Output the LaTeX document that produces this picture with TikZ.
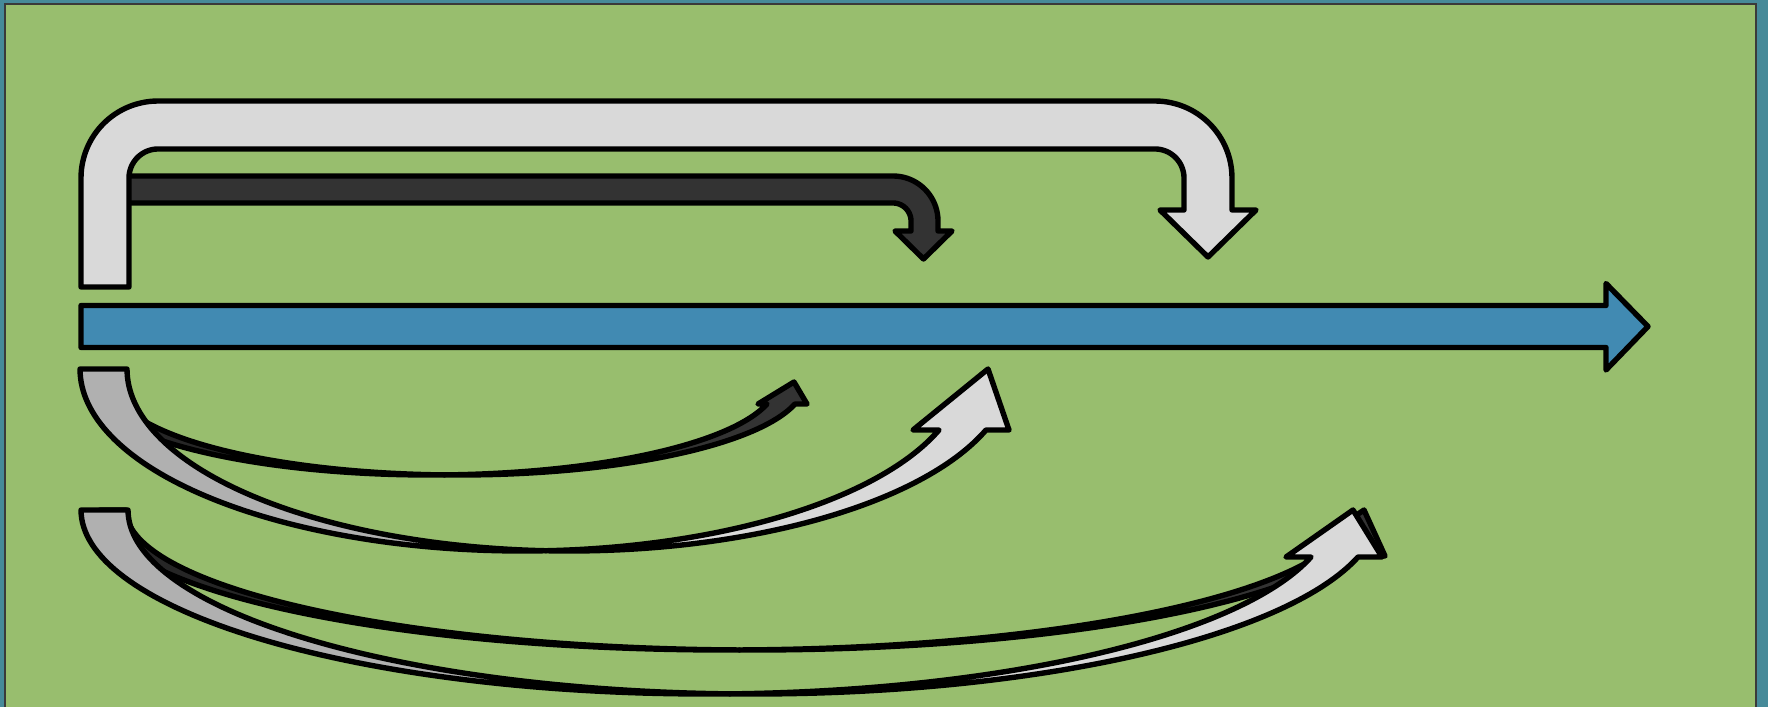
\documentclass[tikz,border=0pt]{standalone}
\definecolor{bgteal}{HTML}{468A99}
\definecolor{bggreen}{HTML}{98BE6E}
\definecolor{rimgray}{HTML}{3A3A3A}
\definecolor{bluearr}{HTML}{418AB2}
\definecolor{lightarr}{HTML}{D9D9D9}
\definecolor{lightsh}{HTML}{B0B0B0}
\definecolor{darkarr}{HTML}{333333}
\definecolor{darksh}{HTML}{262626}
\tikzset{arrline/.style={draw=black, line width=2.7pt, line join=round}}
% curved up arrow: #1 L, #2 T, #3 a, #4 b, #5 th, #6 ah, #7 left wing, #8 right wing, #9 tip x
\newcommand{\curvedarrow}[9]{%
\pgfmathsetmacro{\myca}{#1+#3}%
\pgfmathsetmacro{\mycb}{#1+#3+#5}%
\pgfmathsetmacro{\myti}{acos(#5/(2*#3))}%
\pgfmathsetmacro{\mytii}{180-\myti}%
\pgfmathsetmacro{\mytn}{asin(#6/#4)}%
\filldraw[fill=\shcol, arrline]
  plot[domain=180:\myti, samples=70, variable=\q] ({\myca+#3*cos(\q)},{#2+#4*sin(\q)})
  -- plot[domain=\mytii:180, samples=70, variable=\q] ({\mycb+#3*cos(\q)},{#2+#4*sin(\q)})
  -- cycle;
\filldraw[fill=\frcol, arrline]
  plot[domain=\mytn:\myti, samples=70, variable=\q] ({\myca+#3*cos(\q)},{#2+#4*sin(\q)})
  -- plot[domain=\mytii:\mytn, samples=70, variable=\q] ({\mycb+#3*cos(\q)},{#2+#4*sin(\q)})
  -- (#8,#2+#6) -- (#9,#2) -- (#7,#2+#6) -- cycle;
}
\begin{document}
\begin{tikzpicture}[x=0.5pt,y=-0.5pt]
\useasboundingbox (0,0) rectangle (1768,707);
\clip (0,0) rectangle (1768,707);
\fill[bgteal] (0,0) rectangle (1768,707);
\filldraw[fill=bggreen, draw=rimgray, line width=1.2pt] (5,4) rectangle (1756,740);

% blue straight arrow
\filldraw[fill=bluearr, arrline] (81,305.5) -- (1606,305.5) -- (1606,283.5) -- (1648,326.5)
  -- (1606,370) -- (1606,347.5) -- (81,347.5) -- cycle;

% dark bent arrow (behind)
\filldraw[fill=darkarr, arrline] (110,176) -- (893,176)
  -- plot[domain=270:360, samples=30, variable=\q] ({893+45*cos(\q)},{221+45*sin(\q)})
  -- (938,231) -- (952,231) -- (923.5,259) -- (895,231) -- (911,231)
  -- plot[domain=360:270, samples=30, variable=\q] ({893+18*cos(\q)},{221+18*sin(\q)})
  -- (110,203) -- cycle;

% light U-turn arrow
\filldraw[fill=lightarr, arrline] (81,287) -- (81,178)
  -- plot[domain=180:270, samples=30, variable=\q] ({158+77*cos(\q)},{178+77*sin(\q)})
  -- plot[domain=270:360, samples=30, variable=\q] ({1155+77*cos(\q)},{178+77*sin(\q)})
  -- (1232,210) -- (1256,210) -- (1208,257) -- (1160,210) -- (1184,210)
  -- plot[domain=360:270, samples=30, variable=\q] ({1155+29*cos(\q)},{178+29*sin(\q)})
  -- plot[domain=270:180, samples=30, variable=\q] ({158+29*cos(\q)},{178+29*sin(\q)})
  -- (129,287) -- cycle;

% group 1 curved arrows
\def\frcol{darkarr}\def\shcol{darksh}
\curvedarrow{84}{382}{346.4}{93}{28}{22}{758}{807}{794}
\def\frcol{lightarr}\def\shcol{lightsh}
\curvedarrow{80}{369}{442.3}{182}{47}{61}{913}{1009}{988}

% group 2 curved arrows
\def\frcol{darkarr}\def\shcol{darksh}
\curvedarrow{100}{510}{626.4}{140}{26}{46}{1296}{1385}{1364}
\def\frcol{lightarr}\def\shcol{lightsh}
\curvedarrow{81}{510}{625.4}{184}{47}{47}{1286}{1382}{1353}
\end{tikzpicture}
\end{document}
